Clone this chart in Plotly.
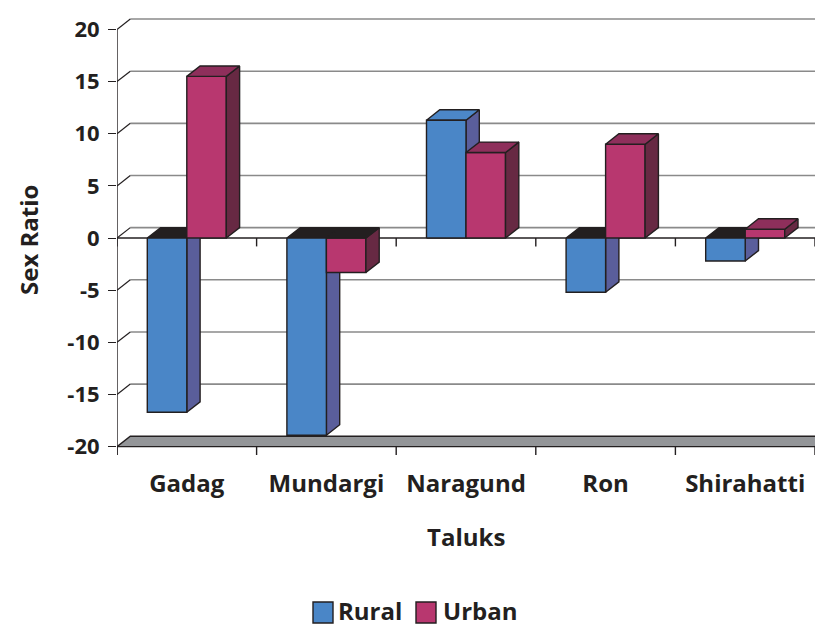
import plotly.graph_objects as go

# ---------------- data ----------------
categories = ["Gadag", "Mundargi", "Naragund", "Ron", "Shirahatti"]
rural = [-16.7, -18.9, 11.3, -5.2, -2.2]
urban = [15.5, -3.3, 8.2, 9.0, 0.85]
y_ticks = [-20, -15, -10, -5, 0, 5, 10, 15, 20]
y_tick_labels = ["-20", "-15", "-10", "-5", "0", "5", "10", "15", "20"]
series_names = ["Rural", "Urban"]

# ---------------- styling / geometry ----------------
FONT = "Open Sans"
DARK = "#231f20"
GRID = "#8a8a8a"
COLORS = {
    "Rural": dict(front="#4a86c7", side="#5a5e9b", top="#4c87c8"),
    "Urban": dict(front="#b8376f", side="#672943", top="#8e2f5b"),
}
NEG_TOP = "#231f20"
BAR_W = 0.283        # width of one bar in category units
DX = 0.0953          # 3-D depth offset (category units)
DY = 1.0             # 3-D depth offset (value units)
TICK_DROP = 0.8      # tick length in value units

W_PX, H_PX = 816, 627
L, R, T, B = 117, 1, 18, 172
PW, PH = W_PX - L - R, H_PX - T - B
Y_LO, Y_HI = -20 - TICK_DROP, 21.1
X_LO, X_HI = -0.5, len(categories) - 0.5


def xp(px):
    return (px - L) / PW


def yp(py):
    return (H_PX - B - py) / PH


fig = go.Figure()


def poly_trace(polys, color):
    xs, ys = [], []
    for p in polys:
        for (a, b) in p:
            xs.append(a)
            ys.append(b)
        xs.append(p[0][0])
        ys.append(p[0][1])
        xs.append(None)
        ys.append(None)
    fig.add_trace(go.Scatter(
        x=xs, y=ys, mode="lines", fill="toself", fillcolor=color,
        line=dict(color=DARK, width=1.4), hoverinfo="skip", showlegend=False,
    ))


def faces(values, offset_left):
    fronts, sides, tops_pos, tops_neg = [], [], [], []
    for i, v in enumerate(values):
        xl = i + offset_left
        xr = xl + BAR_W
        fronts.append([(xl, 0), (xr, 0), (xr, v), (xl, v)])
        sides.append([(xr, 0), (xr + DX, DY), (xr + DX, v + DY), (xr, v)])
        if v >= 0:
            tops_pos.append([(xl, v), (xl + DX, v + DY), (xr + DX, v + DY), (xr, v)])
        else:
            tops_neg.append([(xl, 0), (xl + DX, DY), (xr + DX, DY), (xr, 0)])
    return fronts, sides, tops_pos, tops_neg


rf, rs, rtp, rtn = faces(rural, -BAR_W)
uf, us, utp, utn = faces(urban, 0.0)

c = COLORS["Rural"]
poly_trace(rs, c["side"])
if rtp:
    poly_trace(rtp, c["top"])
if rtn:
    poly_trace(rtn, NEG_TOP)
poly_trace(rf, c["front"])

c = COLORS["Urban"]
poly_trace(uf, c["front"])
poly_trace(us, c["side"])
if utp:
    poly_trace(utp, c["top"])
if utn:
    poly_trace(utn, NEG_TOP)

# ---------------- walls, floor, axes (computed from ticks) ----------------
shapes = []
for t in y_ticks:
    if t > y_ticks[0]:
        # back-wall gridline
        shapes.append(dict(type="line", xref="x", yref="y", layer="below",
                           x0=X_LO + DX, x1=X_HI + DX, y0=t + DY, y1=t + DY,
                           line=dict(color=GRID, width=1.6)))
        # side-wall connector
        shapes.append(dict(type="line", xref="x", yref="y", layer="below",
                           x0=X_LO, x1=X_LO + DX, y0=t, y1=t + DY,
                           line=dict(color=DARK, width=1.2)))

# floor
lo = y_ticks[0]
shapes.append(dict(type="path", xref="x", yref="y", layer="below",
                   path=f"M{X_LO},{lo} L{X_LO + DX},{lo + DY} L{X_HI + DX},{lo + DY} L{X_HI},{lo} Z",
                   fillcolor="#939598", line=dict(color=DARK, width=1.4)))

# front value axis line
shapes.append(dict(type="line", xref="x", yref="y", layer="above",
                   x0=X_LO, x1=X_LO, y0=y_ticks[-1], y1=lo - TICK_DROP,
                   line=dict(color=DARK, width=1.4)))
# category axis at zero
shapes.append(dict(type="line", xref="x", yref="y", layer="below",
                   x0=X_LO, x1=X_HI, y0=0, y1=0,
                   line=dict(color=DARK, width=1.4)))
for k in range(len(categories) + 1):
    xb = X_LO + k
    for base in (0, lo):
        shapes.append(dict(type="line", xref="x", yref="y", layer="below",
                           x0=xb, x1=xb, y0=base, y1=base - TICK_DROP,
                           line=dict(color=DARK, width=1.4)))

# legend (manual, large square swatches)
legend_items = [("Rural", 313, 337), ("Urban", 416, 442)]
annotations = []
for name, sx, tx in legend_items:
    shapes.append(dict(type="rect", xref="paper", yref="paper",
                       x0=xp(sx), x1=xp(sx + 20), y0=yp(623), y1=yp(602),
                       fillcolor=COLORS[name]["front"], line=dict(color=DARK, width=1.4)))
    annotations.append(dict(text=name, xref="paper", yref="paper", x=xp(tx), y=yp(610),
                            xanchor="left", yanchor="middle", showarrow=False, borderpad=0,
                            font=dict(family=FONT, size=24, color=DARK, weight=700)))

annotations.append(dict(text="Sex Ratio", xref="paper", yref="paper", x=xp(29), y=yp(240),
                        textangle=-90, showarrow=False, xanchor="center", yanchor="middle",
                        font=dict(family=FONT, size=24, color=DARK, weight=700)))
annotations.append(dict(text="Taluks", xref="paper", yref="paper", x=xp(466), y=yp(536),
                        showarrow=False, xanchor="center", yanchor="middle",
                        font=dict(family=FONT, size=24, color=DARK, weight=700)))

fig.update_layout(
    width=W_PX, height=H_PX,
    margin=dict(l=L, r=R, t=T, b=B, pad=0),
    paper_bgcolor="white", plot_bgcolor="white",
    showlegend=False,
    shapes=shapes, annotations=annotations,
    xaxis=dict(range=[X_LO, X_HI], tickvals=list(range(len(categories))),
               ticktext=categories, showgrid=False, zeroline=False, showline=False,
               ticks="", ticklabelstandoff=12,
               tickfont=dict(family=FONT, size=24, color=DARK, weight=700)),
    yaxis=dict(range=[Y_LO, Y_HI], tickvals=y_ticks, ticktext=y_tick_labels,
               showgrid=False, zeroline=False,
               showline=False, ticks="outside", ticklen=8, tickwidth=1.4, tickcolor=DARK,
               ticklabelstandoff=4,
               tickfont=dict(family=FONT, size=22, color=DARK, weight=700)),
)

fig.write_html("out.html")
